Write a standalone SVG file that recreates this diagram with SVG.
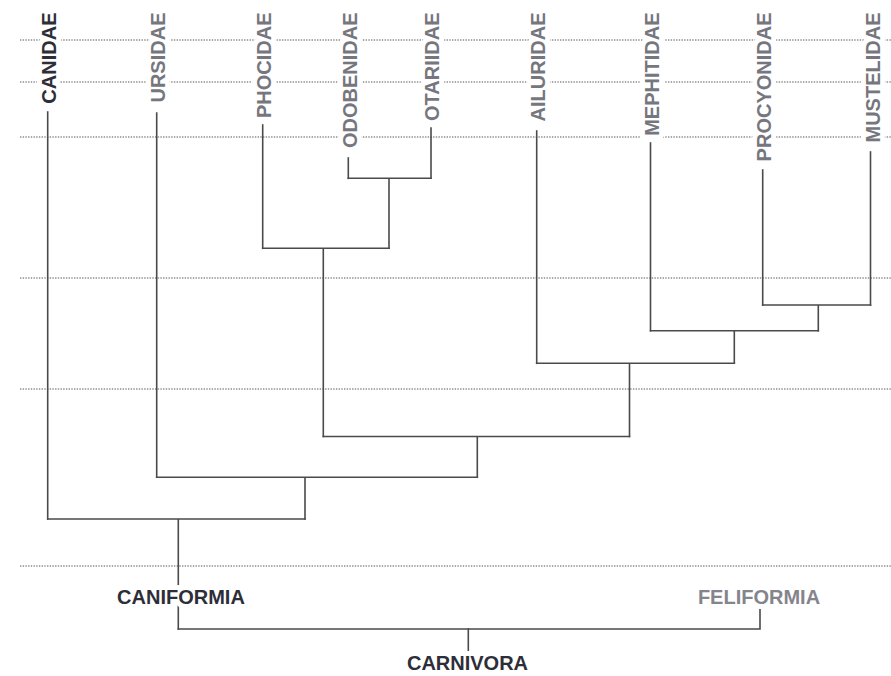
<svg xmlns="http://www.w3.org/2000/svg" width="891" height="676" viewBox="0 0 891 676">
<style>
.bg{fill:#ffffff}
.grid line{stroke:#555;stroke-width:1;stroke-dasharray:1.4 1.3}
.edges path{fill:none;stroke:#4a4a4a;stroke-width:1.6;stroke-linecap:square}
text{font-family:"Liberation Sans",Arial,Helvetica,sans-serif;font-weight:bold;font-size:20px;stroke:#ffffff;stroke-width:10;stroke-linejoin:round;paint-order:stroke}
.v{text-anchor:end}
.dark{fill:#2e2e38}
.grey{fill:#76767e}
.light{fill:#84848c}
.h{text-anchor:middle}
</style>
<rect class="bg" x="0" y="0" width="891" height="676"/>
<g id="grid" class="grid">
<line x1="20" y1="40" x2="891" y2="40"/>
<line x1="20" y1="82" x2="891" y2="82"/>
<line x1="20" y1="137" x2="891" y2="137"/>
<line x1="20" y1="278" x2="891" y2="278"/>
<line x1="20" y1="389" x2="891" y2="389"/>
<line x1="20" y1="566" x2="891" y2="566"/>
</g>
<g id="connectors" class="edges">
<path d="M47.7,112 V519"/>
<path d="M156.7,113 V477.3"/>
<path d="M262.7,125 V248.3"/>
<path d="M348.3,158 V178.3"/>
<path d="M431,128 V178.3"/>
<path d="M536.7,131 V363.3"/>
<path d="M650.5,143 V330.7"/>
<path d="M762.7,170 V305"/>
<path d="M870.5,152 V305"/>
<path d="M348.3,178.3 H431 M389,178.3 V248.3"/>
<path d="M262.7,248.3 H389 M323.3,248.3 V436.5"/>
<path d="M762.7,305 H870.5 M818.3,305 V330.7"/>
<path d="M650.5,330.7 H818.3 M734.3,330.7 V363.3"/>
<path d="M536.7,363.3 H734.3 M629.5,363.3 V436.5"/>
<path d="M323.3,436.5 H629.5 M477.3,436.5 V477.3"/>
<path d="M156.7,477.3 H477.3 M305,477.3 V519"/>
<path d="M47.7,519 H305 M178.3,519 V629"/>
<path d="M178.3,629 H760 M760,609 V629"/>
<path d="M468.3,629 V651"/>
</g>
<g id="canidae"><text class="v dark" transform="translate(55.5,12.5) rotate(-90)">CANIDAE</text></g>
<g id="ursidae"><text class="v grey" transform="translate(165,12.5) rotate(-90)">URSIDAE</text></g>
<g id="phocidae"><text class="v grey" transform="translate(270.5,12.5) rotate(-90)">PHOCIDAE</text></g>
<g id="odobenidae"><text class="v grey" transform="translate(356.5,12.5) rotate(-90)">ODOBENIDAE</text></g>
<g id="otariidae"><text class="v grey" transform="translate(439.3,12.5) rotate(-90)">OTARIIDAE</text></g>
<g id="ailuridae"><text class="v grey" transform="translate(545,12.5) rotate(-90)">AILURIDAE</text></g>
<g id="mephitidae"><text class="v grey" transform="translate(658.5,12.5) rotate(-90)">MEPHITIDAE</text></g>
<g id="procyonidae"><text class="v grey" transform="translate(770.5,12.5) rotate(-90)">PROCYONIDAE</text></g>
<g id="mustelidae"><text class="v grey" transform="translate(879.5,12.5) rotate(-90)">MUSTELIDAE</text></g>
<g id="caniformia"><text class="h dark" x="181" y="604">CANIFORMIA</text></g>
<g id="feliformia"><text class="h light" x="759" y="604">FELIFORMIA</text></g>
<g id="carnivora"><text class="h dark" x="467.5" y="670">CARNIVORA</text></g>
</svg>
